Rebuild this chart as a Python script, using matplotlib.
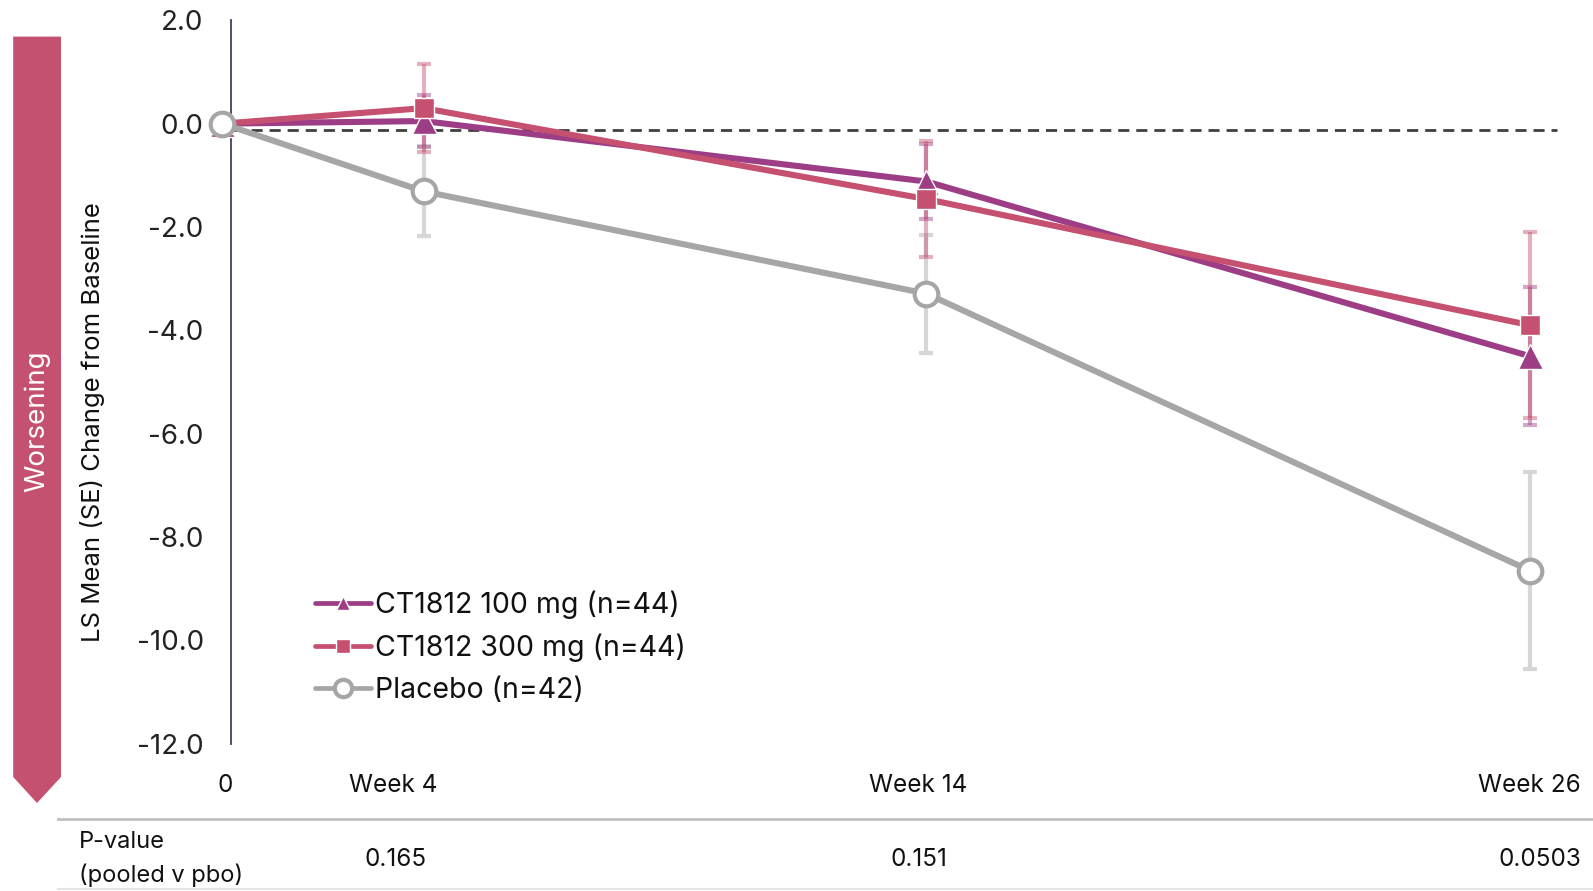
import matplotlib
matplotlib.use("Agg")
import matplotlib.pyplot as plt
from matplotlib.patches import Polygon
from matplotlib.lines import Line2D
import matplotlib.transforms as mtransforms

plt.rcParams['font.family'] = ['Inter', 'DejaVu Sans']

# ---------------- data ----------------
weeks = [0, 4, 14, 26]
series_names = ["CT1812 100 mg (n=44)", "CT1812 300 mg (n=44)", "Placebo (n=42)"]
mean_100 = [0.0, 0.05, -1.12, -4.5]
se_100 = [0.0, 0.5, 0.73, 1.33]
mean_300 = [0.0, 0.30, -1.46, -3.9]
se_300 = [0.0, 0.85, 1.12, 1.8]
mean_pbo = [0.0, -1.31, -3.29, -8.65]
se_pbo = [0.0, 0.87, 1.14, 1.9]
xtick_labels = ["0", "Week 4", "Week 14", "Week 26"]
xtick_label_pos = [0.06, 3.39, 13.84, 26.0]
pvalue_labels = ["0.165", "0.151", "0.0503"]
pvalue_pos = [3.45, 13.86, 26.2]
yticks = [2.0, 0.0, -2.0, -4.0, -6.0, -8.0, -10.0, -12.0]
ref_level = -0.13

C100 = "#9C3D86"
C300 = "#C5506F"
CPBO = "#A6A6A6"

W, H = 1593, 891
fig = plt.figure(figsize=(W / 100, H / 100), dpi=100)

def fx(x):
    return x / W

def fy(y):
    return 1 - y / H

ax = fig.add_axes([fx(231.5), fy(743.7), fx(1560) - fx(231.5), fy(20.3) - fy(743.7)])
ax.set_xlim(0.18, 26.6)
ax.set_ylim(-12, 2)

# error bars
ax.errorbar(weeks[1:], mean_pbo[1:], yerr=se_pbo[1:], fmt='none', ecolor="#D6D6D6",
             elinewidth=3, capsize=5, capthick=3, zorder=2, clip_on=False)
ax.errorbar(weeks[1:], mean_100[1:], yerr=se_100[1:], fmt='none', ecolor=C100, alpha=0.45,
             elinewidth=3, capsize=5, capthick=3, zorder=2.1, clip_on=False)
ax.errorbar(weeks[1:], mean_300[1:], yerr=se_300[1:], fmt='none', ecolor=C300, alpha=0.45,
             elinewidth=3, capsize=5, capthick=3, zorder=2.2, clip_on=False)

# reference dashed line
ax.plot([0.2, 26.55], [ref_level, ref_level], color="#404040", lw=2, ls=(0, (4, 2.5)),
        zorder=2.5, clip_on=False)

l100, = ax.plot(weeks, mean_100, color=C100, lw=4.4, marker='^', markersize=18,
                markeredgecolor='white', markeredgewidth=1, zorder=4, clip_on=False)
l300, = ax.plot(weeks, mean_300, color=C300, lw=4.4, marker='s', markersize=15,
                markeredgecolor='white', markeredgewidth=1, zorder=5, clip_on=False)
lpbo, = ax.plot(weeks, mean_pbo, color=CPBO, lw=4.4, marker='o', markersize=17,
                markerfacecolor='white', markeredgecolor=CPBO, markeredgewidth=3,
                zorder=6, clip_on=False)

for s in ['top', 'right', 'bottom']:
    ax.spines[s].set_visible(False)
ax.spines['left'].set_color("#4B3A58")
ax.spines['left'].set_linewidth(1.3)
ax.set_xticks([])
ax.set_yticks(yticks)
ax.set_yticklabels([f"{v:.1f}" for v in yticks], fontsize=20, color="#222222")
ax.tick_params(axis='y', length=0, pad=20)

# y-label
fig.text(fx(92.5), fy(422), "LS Mean (SE) Change from Baseline", rotation=90,
         ha='center', va='center', fontsize=18.5, color="#111111")

# x labels
bt = mtransforms.blended_transform_factory(ax.transData, fig.transFigure)
for lab, xp in zip(xtick_labels, xtick_label_pos):
    ax.text(xp, fy(785), lab, transform=bt, ha='center', va='center', fontsize=17.5,
            color="#111111", clip_on=False)

# separator lines
fig.add_artist(Line2D([fx(58), 1.0], [fy(819), fy(819)], color="#BFBFBF", lw=2))
fig.add_artist(Line2D([fx(58), 1.0], [fy(889), fy(889)], color="#E3E3E3", lw=1.5))

# p-values
fig.text(fx(79), fy(842), "P-value", ha='left', va='center', fontsize=17, color="#111111")
fig.text(fx(79), fy(875), "(pooled v pbo)", ha='left', va='center', fontsize=17, color="#111111")
for lab, xp in zip(pvalue_labels, pvalue_pos):
    ax.text(xp, fy(860), lab, transform=bt, ha='center', va='center', fontsize=17.5,
            color="#111111", clip_on=False)

# worsening arrow banner
banner = Polygon([(fx(13.2), fy(36.6)), (fx(61), fy(36.6)), (fx(61), fy(777)),
                  (fx(37), fy(803)), (fx(13.2), fy(777))], closed=True,
                 transform=fig.transFigure, facecolor="#C4516F", edgecolor='none')
fig.add_artist(banner)
fig.text(fx(37.5), fy(421.6), "Worsening", rotation=90, ha='center', va='center',
         fontsize=20, color='white')

# legend
leg = fig.legend([l100, l300, lpbo], series_names, loc='center left',
                 bbox_to_anchor=(fx(315), fy(647)), frameon=False, fontsize=20.5,
                 handlelength=1.95, handletextpad=0.14, labelspacing=0.52,
                 borderpad=0, borderaxespad=0)
for h, ms in zip(leg.legend_handles, [10.5, 10.5, 12.5]):
    h.set_markersize(ms)
    h.set_linewidth(3.4)
    h.set_solid_capstyle('round')
for t in leg.get_texts():
    t.set_color("#111111")

fig.savefig("out.png", dpi=100)
